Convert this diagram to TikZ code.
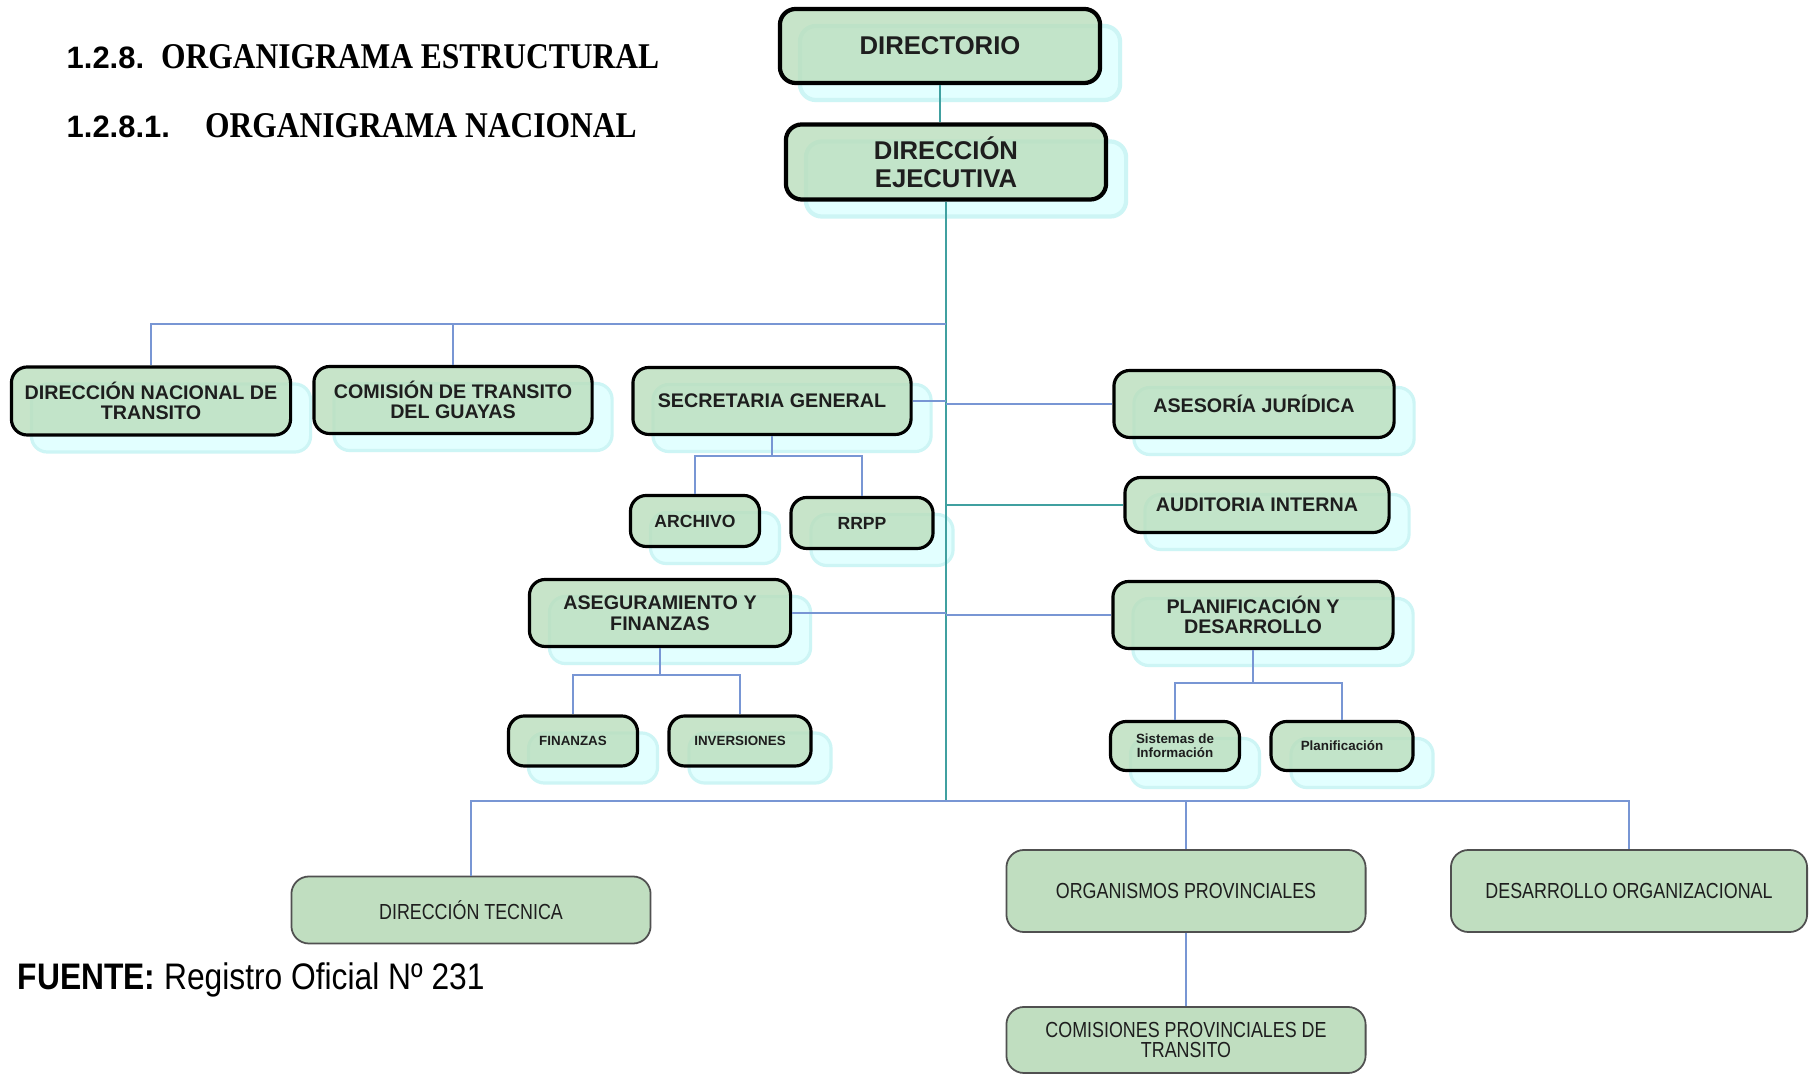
\documentclass[tikz,border=0pt]{standalone}
\usepackage{fontspec}
\setmainfont{Liberation Sans}
\newfontfamily\orgserif[FakeStretch=0.87]{Liberation Serif}
\newfontfamily\orgnarrow[FakeStretch=0.82]{Liberation Sans}
\newfontfamily\orgfoot[FakeStretch=0.86]{Liberation Sans}
\usetikzlibrary{positioning,shadows}
\definecolor{OrgGreen}{RGB}{186,222,188}
\definecolor{OrgFlat}{RGB}{192,222,192}
\definecolor{OrgCyan}{RGB}{226,255,255}
\definecolor{OrgCyanLine}{RGB}{205,245,245}
\definecolor{OrgBlue}{RGB}{120,150,212}
\definecolor{OrgTeal}{RGB}{64,160,160}
\definecolor{OrgBorder}{RGB}{80,80,80}
\definecolor{OrgInk}{RGB}{30,30,30}
\tikzset{
  org/box/.style={
    draw=black,
    line width=0.9pt,
    rounded corners=4.5pt,
    fill=OrgGreen,
    fill opacity=0.8,
    text opacity=1,
    align=center,
    text=OrgInk,
    inner sep=1pt,
    font=\bfseries\fontsize{5.6}{5.9}\selectfont,
    drop shadow={shadow xshift=0.2cm, shadow yshift=-0.17cm, fill=OrgCyan, draw=OrgCyanLine, opacity=1}
  },
  org/headbox/.style={org/box, line width=1.2pt, font=\bfseries\fontsize{7.3}{7.9}\selectfont},
  org/midbox/.style={org/box, font=\bfseries\fontsize{5}{5.6}\selectfont},
  org/smallbox/.style={org/box, font=\bfseries\fontsize{3.8}{4.1}\selectfont},
  org/flatbox/.style={
    draw=OrgBorder,
    line width=0.5pt,
    rounded corners=5pt,
    fill=OrgFlat,
    align=center,
    text=OrgInk,
    inner sep=1pt,
    font=\orgnarrow\fontsize{6.2}{5.6}\selectfont
  },
  org/line/.style={draw=OrgBlue, line width=0.7pt},
  org/trunk/.style={draw=OrgTeal, line width=0.7pt},
  org/heading/.style={anchor=west, inner sep=0pt, text=black}
}

\begin{document}
\begin{tikzpicture}[x=0.01cm,y=-0.01cm]
  \useasboundingbox[fill=white] (0,0) rectangle (1809,1074);

  % headings
  \node[org/heading] (h1) at (66,57)
    {\bfseries\fontsize{8.8}{10}\selectfont 1.2.8.\hspace{4.8pt}\orgserif\fontsize{10.3}{12}\selectfont ORGANIGRAMA ESTRUCTURAL};
  \node[org/heading] (h2) at (66,126)
    {\bfseries\fontsize{8.8}{10}\selectfont 1.2.8.1.\hspace{10pt}\orgserif\fontsize{10.3}{12}\selectfont ORGANIGRAMA NACIONAL};

  % top levels
  \node[org/headbox,minimum width=3.2cm,minimum height=0.74cm] (dir) at (940,46) {DIRECTORIO};
  \node[org/headbox,minimum width=3.2cm,minimum height=0.75cm] (dej) at (946,162) {DIRECCIÓN\\EJECUTIVA};
  \coordinate (ltop) at (946,324);
  \coordinate (bus) at (946,801);

  % left and right branches
  \node[org/box,minimum width=2.79cm,minimum height=0.68cm] (dnt) at (151,401) {DIRECCIÓN NACIONAL DE\\TRANSITO};
  \node[org/box,minimum width=2.78cm,minimum height=0.67cm] (ctg) at (453,400) {COMISIÓN DE TRANSITO\\DEL GUAYAS};
  \node[org/box,minimum width=2.78cm,minimum height=0.67cm] (sg) at (772,401) {SECRETARIA GENERAL};
  \node[org/midbox,minimum width=1.29cm,minimum height=0.51cm] (arch) at (695,521) {ARCHIVO};
  \node[org/midbox,minimum width=1.42cm,minimum height=0.51cm] (rrpp) at (862,523) {RRPP};
  \node[org/box,minimum width=2.8cm,minimum height=0.67cm] (aj) at (1254,404) {ASESORÍA JURÍDICA};
  \node[org/box,minimum width=2.64cm,minimum height=0.55cm] (ai) at (1257,505) {AUDITORIA INTERNA};
  \node[org/box,minimum width=2.61cm,minimum height=0.67cm] (asf) at (660,613) {ASEGURAMIENTO Y\\FINANZAS};
  \node[org/smallbox,minimum width=1.29cm,minimum height=0.5cm] (fin) at (573,741) {FINANZAS};
  \node[org/smallbox,minimum width=1.42cm,minimum height=0.5cm] (inv) at (740,741) {INVERSIONES};
  \node[org/box,minimum width=2.8cm,minimum height=0.67cm] (pyd) at (1253,615) {PLANIFICACIÓN Y\\DESARROLLO};
  \node[org/smallbox,minimum width=1.29cm,minimum height=0.49cm] (sis) at (1175,746) {Sistemas de\\Información};
  \node[org/smallbox,minimum width=1.42cm,minimum height=0.49cm] (pla) at (1342,746) {Planificación};

  % bottom level
  \node[org/flatbox,minimum width=3.59cm,minimum height=0.67cm] (dtec) at (471,910) {DIRECCIÓN TECNICA};
  \node[org/flatbox,minimum width=3.59cm,minimum height=0.82cm] (orgp) at (1186,891) {ORGANISMOS PROVINCIALES};
  \node[org/flatbox,minimum width=3.56cm,minimum height=0.82cm] (desorg) at (1629,891) {DESARROLLO ORGANIZACIONAL};
  \node[org/flatbox,minimum width=3.59cm,minimum height=0.66cm] (comp) at (1186,1040) {COMISIONES PROVINCIALES DE\\TRANSITO};

  % connectors
  \draw[org/trunk] (dir.south) -- (dir.south |- dej.north);
  \draw[org/trunk] (dej.south) -- (bus);
  \draw[org/line] (dnt.north) |- (ltop);
  \draw[org/line] (ctg.north) -- (ctg.north |- ltop);
  \draw[org/line] (sg.east) -- (sg.east -| ltop);
  \draw[org/line] (aj.west) -- (aj.west -| ltop);
  \draw[org/trunk] (ai.west) -- (ai.west -| ltop);
  \draw[org/line] (asf.east) -- (asf.east -| ltop);
  \draw[org/line] (pyd.west) -- (pyd.west -| ltop);
  \draw[org/line] (sg.south) -- ++(0,20) -| (arch.north) (sg.south) ++(0,20) -| (rrpp.north);
  \draw[org/line] (asf.south) -- ++(0,27) -| (fin.north) (asf.south) ++(0,27) -| (inv.north);
  \draw[org/line] (pyd.south) -- ++(0,33) -| (sis.north) (pyd.south) ++(0,33) -| (pla.north);
  \draw[org/line] (dtec.north) |- (bus) -| (desorg.north);
  \draw[org/line] (orgp.north) -- (orgp.north |- bus);
  \draw[org/line] (orgp.south) -- (comp.north);

  % source
  \node[org/heading] (src) at (17,980)
    {\orgfoot\fontsize{10.5}{12}\selectfont\textbf{FUENTE:} Registro Oficial Nº 231};
\end{tikzpicture}
\end{document}
